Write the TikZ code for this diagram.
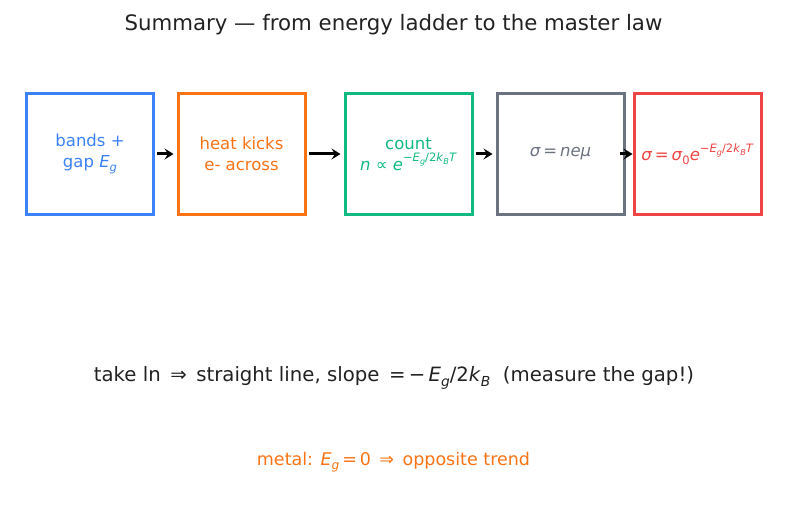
\documentclass[tikz,border=0pt]{standalone}
\usepackage{fontspec}
\setmainfont{DejaVu Sans}
\usepackage{graphicx}
\usepackage{tikz}
\usetikzlibrary{arrows.meta}
\definecolor{bandblue}{HTML}{3B82F6}
\definecolor{heatorange}{HTML}{F97316}
\definecolor{countgreen}{HTML}{10B981}
\definecolor{slategray}{HTML}{6B7280}
\definecolor{lawred}{HTML}{EF4444}
\definecolor{inkblack}{HTML}{222222}
\newcommand\hi[1]{\raisebox{0.5em}{\scalebox{0.7}{#1}}}
\newcommand\lo[1]{\raisebox{-0.25em}{\scalebox{0.7}{#1}}}
\newcommand\boltz{\hi{−\textit{E}\lo{\textit{g}}/2\textit{k}\lo{\textit{B}}\textit{T}}}

\begin{document}
\begin{tikzpicture}[x=1pt,y=-1pt,
  stage/.style={draw=#1,text=#1,line width=3pt,minimum width=127pt,minimum height=121pt,
    align=center,inner sep=2pt,font=\fontsize{16.5}{21}\selectfont},
  flow/.style={-{Stealth[length=9pt,width=11pt,inset=3.5pt]},line width=3pt,shorten <=2pt,shorten >=3pt}]
  \useasboundingbox (0,0) rectangle (787,508);
  % title
  \node[font=\fontsize{21.3}{25}\selectfont,text=inkblack] (title) at (393.5,25)
    {Summary — from energy ladder to the master law};
  % stages, left to right
  \node[stage=bandblue] (bands) at (90,154) {bands +\\gap \textit{E}\lo{\textit{g}}};
  \node[stage=heatorange] (kicks) at (241.5,154) {heat kicks\\e- across};
  \node[stage=countgreen] (count) at (408.5,154) {count\\\textit{n} ∝ \textit{e}\boltz};
  \node[stage=slategray] (drift) at (560.5,154) {\textit{σ}\,=\,\textit{neμ}};
  \node[stage=lawred] (law) at (697.5,154) {\textit{σ}\,=\,\textit{σ}\lo{0}\textit{e}\boltz};
  % arrows
  \draw[flow] (bands) -- (kicks);
  \draw[flow] (kicks) -- (count);
  \draw[flow] (count) -- (drift);
  \draw[flow,shorten <=-6pt,shorten >=0pt] (drift) -- (law);
  % notes below
  \node[font=\fontsize{19.7}{24}\selectfont,text=inkblack] (slope) at (394,378)
    {take ln \,⇒\, straight line, slope \,=\,−\,\textit{E}\lo{\textit{g}}/2\textit{k}\lo{\textit{B}}\ \ (measure the gap!)};
  \node[font=\fontsize{17.5}{21}\selectfont,text=heatorange] (metal) at (393.5,462)
    {metal: \textit{E}\lo{\textit{g}}\,=\,0 \,⇒\, opposite trend};
\end{tikzpicture}
\end{document}
